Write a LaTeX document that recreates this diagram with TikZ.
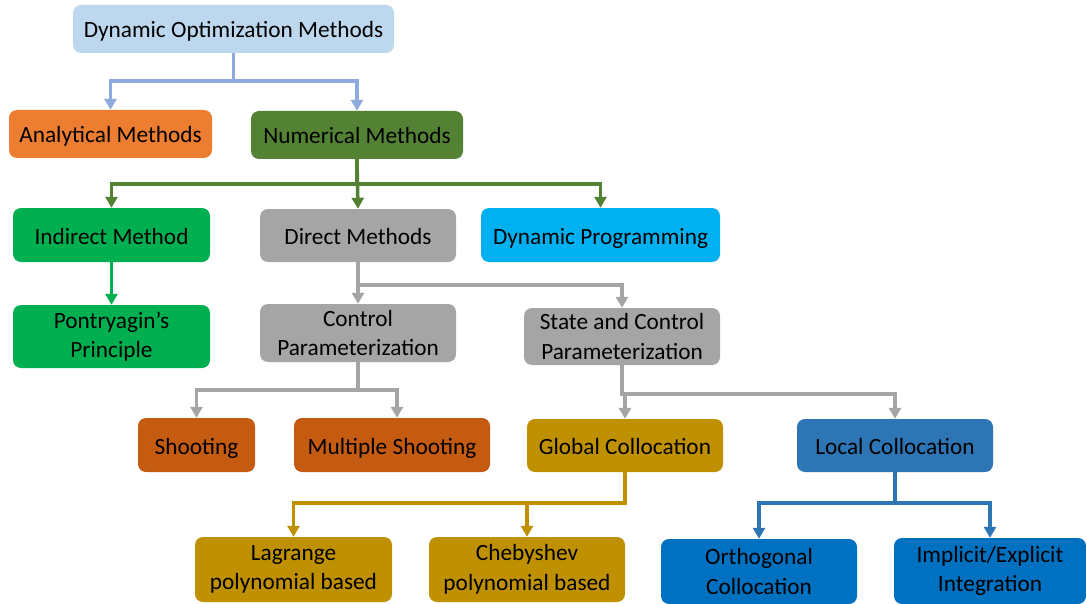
\documentclass[tikz,border=0pt]{standalone}
\usepackage{fontspec}
\setmainfont{Carlito}
\usetikzlibrary{arrows.meta}
\definecolor{cTop}{HTML}{BDD7EE}
\definecolor{cTopLn}{HTML}{8FAADC}
\definecolor{cOrange}{HTML}{ED7D31}
\definecolor{cDkGreen}{HTML}{548235}
\definecolor{cGreen}{HTML}{00B050}
\definecolor{cGray}{HTML}{A5A5A5}
\definecolor{cCyan}{HTML}{00B0F0}
\definecolor{cRust}{HTML}{C55A11}
\definecolor{cGold}{HTML}{BF9000}
\definecolor{cSteel}{HTML}{2E75B6}
\definecolor{cBlue}{HTML}{0070C0}
\tikzset{
  box/.style={rounded corners=8pt, inner sep=0pt, align=center, text=black,
    font=\fontsize{23.3}{29.5}\selectfont},
  oneline/.style={text height=23pt, text depth=5pt},
  conn/.style={line width=3.5pt, -{Triangle[width=12pt,length=11pt]}},
}
\newcommand{\mkbox}[7][]{% options, name, fill, cx, cy, w, h; the label follows in braces
  \node[box, #1, fill=#3, minimum width=#6pt, minimum height=#7pt] (#2) at (#4,#5)}
\begin{document}
\begin{tikzpicture}[x=1pt,y=-1pt]
  \useasboundingbox (0,0) rectangle (1086,604);
  % level 0 and 1
  \mkbox[oneline]{top}{cTop}{233.5}{29}{321}{48} {Dynamic Optimization Methods};
  \mkbox[oneline]{anal}{cOrange}{110.5}{134}{203}{48} {Analytical Methods};
  \mkbox[oneline]{num}{cDkGreen}{357}{135}{212}{48} {Numerical Methods};
  % level 2
  \mkbox[oneline]{ind}{cGreen}{111.5}{235}{197}{54} {Indirect Method};
  \mkbox[oneline]{dir}{cGray}{358}{235.5}{196}{53} {Direct Methods};
  \mkbox[oneline]{dp}{cCyan}{600.5}{235}{239}{54} {Dynamic Programming};
  % level 3
  \mkbox{pon}{cGreen}{111.5}{336.5}{197}{63} {Pontryagin’s\\Principle};
  \mkbox{cp}{cGray}{358}{333}{196}{58} {Control\\Parameterization};
  \mkbox{scp}{cGray}{622}{336.5}{196}{57} {State and Control\\Parameterization};
  % level 4
  \mkbox[oneline]{sh}{cRust}{196.5}{445}{117}{54} {Shooting};
  \mkbox[oneline]{ms}{cRust}{392}{445}{196}{54} {Multiple Shooting};
  \mkbox[oneline]{gc}{cGold}{625}{445.5}{196}{53} {Global Collocation};
  \mkbox[oneline]{lc}{cSteel}{895}{445.5}{196}{53} {Local Collocation};
  % level 5
  \mkbox{lag}{cGold}{293.5}{569.5}{197}{65} {Lagrange\\polynomial based};
  \mkbox{che}{cGold}{527}{569.5}{196}{65} {Chebyshev\\polynomial based};
  \mkbox{ort}{cBlue}{759}{571.5}{196}{65} {Orthogonal\\Collocation};
  \mkbox{imp}{cBlue}{990}{571}{192}{66} {Implicit/Explicit\\Integration};

  % connectors
  \draw[conn, cTopLn] (top.south) -- (top.south |- 0,81) -| (anal.north);
  \draw[conn, cTopLn] (top.south |- 0,81) -| (num.north);

  \draw[conn, cDkGreen] (num.south) -- (num.south |- 0,184) -| (ind.north);
  \draw[conn, cDkGreen] (num.south |- 0,184) -| (dp.north);
  \draw[conn, cDkGreen] (num.south) -- (dir.north);

  \draw[conn, cGreen] (ind.south) -- (pon.north);

  \draw[conn, cGray] (dir.south) -- (cp.north);
  \draw[conn, cGray] (dir.south |- 0,285) -| (scp.north);

  \draw[conn, cGray] (cp.south) -- (cp.south |- 0,390) -| (sh.north);
  \draw[conn, cGray] (cp.south |- 0,390) -| ([xshift=5pt]ms.north);

  \draw[conn, cGray] (scp.south) -- (scp.south |- 0,394) -| (gc.north);
  \draw[conn, cGray] (scp.south |- 0,394) -| (lc.north);

  \draw[conn, cGold] (gc.south) -- (gc.south |- 0,503) -| (lag.north);
  \draw[conn, cGold] (gc.south |- 0,503) -| (che.north);

  \draw[conn, cSteel] (lc.south) -- (lc.south |- 0,503) -| (ort.north);
  \draw[conn, cSteel] (lc.south |- 0,503) -| (imp.north);
\end{tikzpicture}
\end{document}
